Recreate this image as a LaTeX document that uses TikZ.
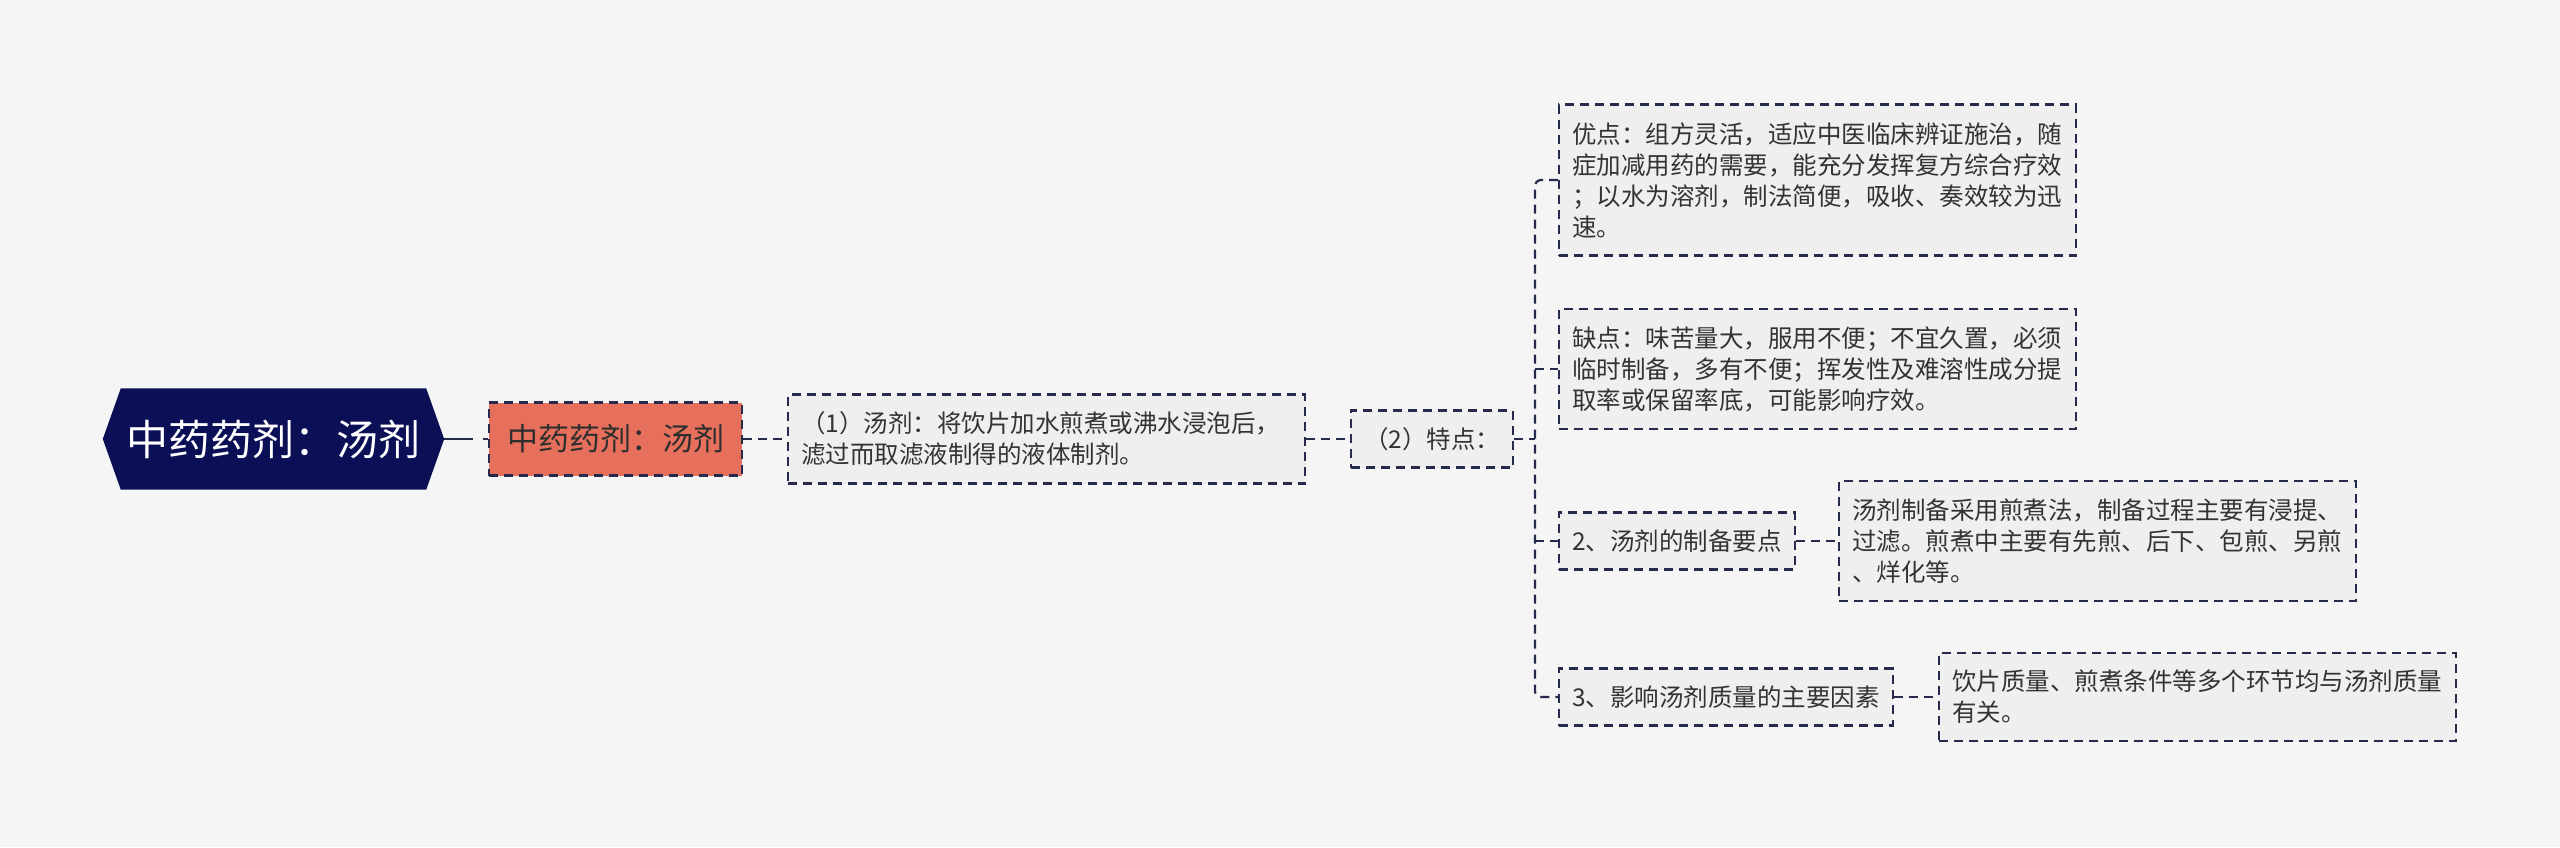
\documentclass[tikz,border=0pt]{standalone}
\usepackage{fontspec}
\setmainfont{Noto Sans CJK SC}
\usetikzlibrary{backgrounds}
\definecolor{bgc}{HTML}{F5F5F5}
\definecolor{boxfill}{HTML}{EFEFEF}
\definecolor{edgec}{HTML}{262B4D}
\definecolor{rootnavy}{HTML}{0B0F55}
\definecolor{rootorange}{HTML}{E6705B}
\definecolor{txt}{HTML}{333333}
\tikzset{
  dashline/.style={draw=edgec, line width=2.2pt, dash pattern=on 9pt off 6pt},
  box/.style={dashline, fill=boxfill, inner xsep=13pt, inner ysep=0pt, anchor=west,
    align=left, text=txt, font=\fontsize{24.5}{31}\selectfont},
  widebox/.style={box, text width=491pt},
  conn/.style={dashline, rounded corners=6pt},
}
\begin{document}
\begin{tikzpicture}[x=1pt,y=-1pt]
\useasboundingbox (0,0) rectangle (2560,847);
% root
\node[minimum width=341pt, minimum height=101pt, inner sep=0pt, text=white,
  font=\fontsize{42}{50}\selectfont] (root) at (273.5,439) {中药药剂：汤剂};
\node[box, fill=rootorange, minimum width=253pt, minimum height=73pt, inner xsep=18pt,
  text=txt!90!black, font=\fontsize{31}{38}\selectfont] (main) at (488,439) {中药药剂：汤剂};
\node[widebox, minimum height=89pt] (def) at (787,439) {（1）汤剂：将饮片加水煎煮或沸水浸泡后，\\滤过而取滤液制得的液体制剂。};
\node[box, minimum height=57pt] (feat) at (1350,439) {（2）特点：};
\node[widebox, minimum height=151pt] (pro) at (1558,180) {优点：组方灵活，适应中医临床辨证施治，随\\症加减用药的需要，能充分发挥复方综合疗效\\；以水为溶剂，制法简便，吸收、奏效较为迅\\速。};
\node[widebox, minimum height=120pt] (con) at (1558,369) {缺点：味苦量大，服用不便；不宜久置，必须\\临时制备，多有不便；挥发性及难溶性成分提\\取率或保留率底，可能影响疗效。};
\node[box, minimum height=57pt] (prep) at (1558,541) {2、汤剂的制备要点};
\node[widebox, minimum height=120pt] (prepd) at (1838,541) {汤剂制备采用煎煮法，制备过程主要有浸提、\\过滤。煎煮中主要有先煎、后下、包煎、另煎\\、烊化等。};
\node[box, minimum height=57pt] (qual) at (1558,697) {3、影响汤剂质量的主要因素};
\node[widebox, minimum height=88pt] (quald) at (1938,697) {饮片质量、煎煮条件等多个环节均与汤剂质量\\有关。};
\begin{scope}[on background layer]
  \fill[bgc] (0,0) rectangle (2560,847);
  \fill[rootnavy] (root.west) -- ([xshift=18pt]root.north west) -- ([xshift=-18pt]root.north east)
    -- (root.east) -- ([xshift=-18pt]root.south east) -- ([xshift=18pt]root.south west) -- cycle;
\end{scope}
% connectors
\coordinate (bx) at (1535,439);
\draw[dashline, dash pattern=on 29pt off 10pt on 6pt off 6pt] (root.east) -- (main.west);
\draw[dashline] (main.east) -- (def.west);
\draw[dashline] (def.east) -- (feat.west);
\draw[dashline] (feat.east) -- (bx);
\draw[conn] (pro.west) -| (bx) |- (qual.west);
\draw[dashline] (bx |- con.west) -- (con.west);
\draw[dashline] (bx |- prep.west) -- (prep.west);
\draw[dashline] (prep.east) -- (prepd.west);
\draw[dashline] (qual.east) -- (quald.west);
\end{tikzpicture}
\end{document}
